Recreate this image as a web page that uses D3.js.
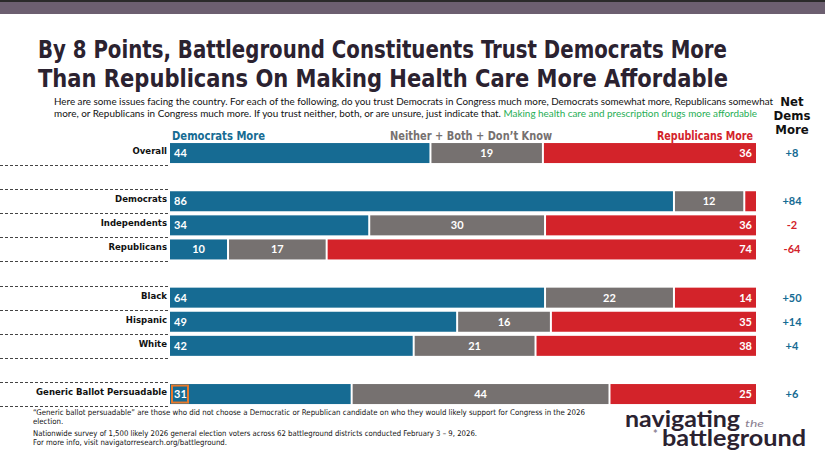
<!DOCTYPE html>
<html><head><meta charset="utf-8">
<script src="https://cdn.jsdelivr.net/npm/d3@7"></script>
<style>
html,body{margin:0;padding:0;background:#fff;}
svg{display:block;}
</style></head>
<body>
<svg id="chart" width="825" height="467"></svg>
<script>
const categories = ["Overall","Democrats","Independents","Republicans","Black","Hispanic","White","Generic Ballot Persuadable"];
const groups = [0,1,1,1,2,2,2,3];
const demMore = [44,86,34,10,64,49,42,31];
const neither = [19,12,30,17,22,16,21,44];
const repMore = [36,2,36,74,14,35,38,25];
const netDems = ["+8","+84","-2","-64","+50","+14","+4","+6"];
const seriesNames = ["Democrats More","Neither + Both + Don\u2019t Know","Republicans More"];

const colors = ["#166b93","#767170","#d3232a"];
const dark = "#2b2230";
const narrow = "'Liberation Sans Narrow','DejaVu Sans Condensed',sans-serif";
const sans = "Lato,'Open Sans',sans-serif";

const svg = d3.select("#chart");

// top band
svg.append("rect").attr("x",0).attr("y",0).attr("width",825).attr("height",2).attr("fill","#2a2a2a");
svg.append("rect").attr("x",0).attr("y",2).attr("width",825).attr("height",12).attr("fill","#6c5f70");

// title
const t1 = "By 8 Points, Battleground Constituents Trust Democrats More";
const t2 = "Than Republicans On Making Health Care More Affordable";
svg.append("text").attr("x",38).attr("y",58).text(t1)
  .attr("font-family",narrow).attr("font-weight","bold").attr("font-size",25).attr("fill",dark)
  .attr("textLength",689).attr("lengthAdjust","spacingAndGlyphs");
svg.append("text").attr("x",38).attr("y",87).text(t2)
  .attr("font-family",narrow).attr("font-weight","bold").attr("font-size",25).attr("fill",dark)
  .attr("textLength",690).attr("lengthAdjust","spacingAndGlyphs");

// subtitle
svg.append("text").attr("x",54).attr("y",105)
  .text("Here are some issues facing the country. For each of the following, do you trust Democrats in Congress much more, Democrats somewhat more, Republicans somewhat")
  .attr("font-family",sans).attr("font-size",8.8).attr("fill","#111")
  .attr("textLength",719).attr("lengthAdjust","spacingAndGlyphs");
const st2 = svg.append("text").attr("x",54).attr("y",117)
  .attr("font-family",sans).attr("font-size",8.8).attr("fill","#111")
  .attr("textLength",703).attr("lengthAdjust","spacingAndGlyphs");
st2.append("tspan").text("more, or Republicans in Congress much more. If you trust neither, both, or are unsure, just indicate that. ");
st2.append("tspan").attr("fill","#1fae54").text("Making health care and prescription drugs more affordable");

// Net Dems More header
["Net","Dems","More"].forEach((w,i)=>{
  svg.append("text").attr("x",792).attr("y",106+i*14).attr("text-anchor","middle").text(w)
    .attr("font-family",narrow).attr("font-weight","bold").attr("font-size",13).attr("fill","#111");
});

// row slots
const slots = [];
categories.forEach((c,i)=>{
  if(i>0 && groups[i]!==groups[i-1]) slots.push("_gap"+i);
  slots.push(c);
});
const y = d3.scaleBand().domain(slots).range([141,141+slots.length*24.1]).paddingInner(0.17).paddingOuter(0.085);
const x0 = 170, x1 = 756;

// legend headers
const legY = 140;
svg.append("text").attr("x",172).attr("y",legY).text(seriesNames[0]).attr("fill",colors[0])
  .attr("font-family",narrow).attr("font-weight","bold").attr("font-size",12.5)
  .attr("textLength",93).attr("lengthAdjust","spacingAndGlyphs");
svg.append("text").attr("x",390).attr("y",legY).text(seriesNames[1]).attr("fill",colors[1])
  .attr("font-family",narrow).attr("font-weight","bold").attr("font-size",12.5)
  .attr("textLength",162).attr("lengthAdjust","spacingAndGlyphs");
svg.append("text").attr("x",657).attr("y",legY).text(seriesNames[2]).attr("fill",colors[2])
  .attr("font-family",narrow).attr("font-weight","bold").attr("font-size",12.5)
  .attr("textLength",96).attr("lengthAdjust","spacingAndGlyphs");

// dashed separators
const sepY = new Set();
categories.forEach((c,i)=>{
  const top = y(c), bot = y(c)+y.bandwidth();
  if(i>0) sepY.add(Math.round(top-2));
  sepY.add(Math.round(bot+2));
});
sepY.forEach(v=>{
  svg.append("line").attr("x1",0).attr("x2",168).attr("y1",v+0.5).attr("y2",v+0.5)
    .attr("stroke","#444").attr("stroke-width",1).attr("stroke-dasharray","3,2");
});

// bars
categories.forEach((c,i)=>{
  const vals = [demMore[i],neither[i],repMore[i]];
  const total = d3.sum(vals);
  const x = d3.scaleLinear().domain([0,total]).range([x0,x1]);
  const yt = y(c), h = y.bandwidth(), yc = yt + h/2;
  let acc = 0;
  vals.forEach((v,j)=>{
    const a = x(acc) + (j>0?1:0);
    const b = x(acc+v) - (j<2?1:0);
    acc += v;
    svg.append("rect").attr("x",a).attr("y",yt).attr("width",Math.max(0,b-a)).attr("height",h)
      .attr("fill",colors[j]);
    if(v>=5){
      let tx, anchor;
      if(j===0){ if(v<20){tx=(a+b)/2;anchor="middle";} else {tx=a+4;anchor="start";} }
      else if(j===1){tx=(a+b)/2;anchor="middle";}
      else {tx=b-4;anchor="end";}
      svg.append("text").attr("x",tx).attr("y",yc+4).attr("text-anchor",anchor).text(v)
        .attr("font-family",sans).attr("font-weight","bold").attr("font-size",11).attr("fill","#fff");
      if(c==="Generic Ballot Persuadable" && j===0){
        svg.append("rect").attr("x",a+2).attr("y",yt+1.5).attr("width",16).attr("height",h-3)
          .attr("fill","none").attr("stroke","#e8792b").attr("stroke-width",2);
      }
    }
  });
  // category label
  svg.append("text").attr("x",167).attr("y",yc+1).attr("text-anchor","end").text(c)
    .attr("font-family",narrow).attr("font-weight","bold").attr("font-size",9.5).attr("fill","#111");
  // net value
  const neg = netDems[i].startsWith("-");
  svg.append("text").attr("x",792).attr("y",yc+4).attr("text-anchor","middle").text(netDems[i])
    .attr("font-family",sans).attr("font-weight","bold").attr("font-size",11)
    .attr("fill",neg?colors[2]:colors[0]);
});

// footnotes
const fn = [
  ["\u201CGeneric ballot persuadable\u201D are those who did not choose a Democratic or Republican candidate on who they would likely support for Congress in the 2026",415,552],
  ["election.",424,null],
  ["Nationwide survey of 1,500 likely 2026 general election voters across 62 battleground districts conducted February 3 \u2013 9, 2026.",436,444],
  ["For more info, visit navigatorresearch.org/battleground.",445,194]
];
fn.forEach(([s,yy,len])=>{
  const t = svg.append("text").attr("x",33).attr("y",yy).text(s)
    .attr("font-family",narrow).attr("font-size",7.8).attr("fill","#111");
  if(len) t.attr("textLength",len).attr("lengthAdjust","spacingAndGlyphs");
});

// logo
svg.append("text").attr("x",625).attr("y",427).text("navigating")
  .attr("font-family",sans).attr("font-weight","bold").attr("font-size",23).attr("fill",dark)
  .attr("textLength",115).attr("lengthAdjust","spacingAndGlyphs");
svg.append("text").attr("x",745).attr("y",427).text("the")
  .attr("font-family",sans).attr("font-style","italic").attr("font-size",10).attr("fill","#8b7f91")
  .attr("textLength",19).attr("lengthAdjust","spacingAndGlyphs");
svg.append("text").attr("x",653).attr("y",438).text("*")
  .attr("font-family",sans).attr("font-weight","bold").attr("font-size",11).attr("fill","#8b7f91");
svg.append("text").attr("x",662).attr("y",446).text("battleground")
  .attr("font-family",sans).attr("font-weight","bold").attr("font-size",23).attr("fill",dark)
  .attr("textLength",144).attr("lengthAdjust","spacingAndGlyphs");
</script>
</body></html>
